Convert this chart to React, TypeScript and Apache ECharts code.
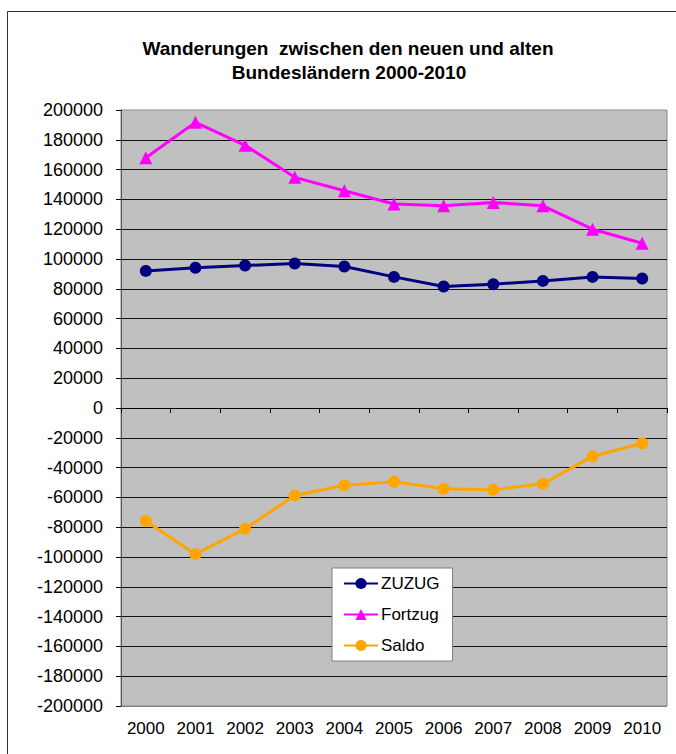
import React, { useEffect, useRef } from "react";
import * as echarts from "echarts";

const years = ["2000", "2001", "2002", "2003", "2004", "2005", "2006", "2007", "2008", "2009", "2010"];
const zuzug = [92000, 94100, 95600, 97000, 95000, 88000, 81500, 83100, 85300, 88000, 86900];
const fortzug = [168000, 191700, 176300, 154800, 145800, 136900, 135700, 138000, 135700, 120000, 110600];
const saldo = [-75900, -98100, -81100, -58700, -51900, -49500, -54200, -54900, -50900, -32500, -23700];
const seriesNames = ["ZUZUG", "Fortzug", "Saldo"];
const titleLines = ["Wanderungen  zwischen den neuen und alten", "Bundesländern 2000-2010"];

const FONT = "'Liberation Sans', Arial, sans-serif";

export default function App() {
  const ref = useRef<HTMLDivElement>(null);
  useEffect(() => {
    if (!ref.current) return;
    const chart = echarts.init(ref.current, undefined, { renderer: "svg" });
    const splitColors: string[] = [];
    for (let i = 0; i <= 20; i++) splitColors.push(i === 0 ? "#808080" : i === 20 ? "#A8A8A8" : "#111111");
    chart.setOption({
      animation: false,
      backgroundColor: "#ffffff",
      graphic: [
        {
          type: "rect",
          silent: true,
          shape: { x: 7.5, y: 11.5, width: 720, height: 800 },
          style: { fill: "none", stroke: "#333", lineWidth: 1 },
          z: -10,
        },
        {
          type: "text",
          x: 348,
          y: 48,
          style: {
            text: titleLines[0],
            textAlign: "center",
            textVerticalAlign: "middle",
            font: `bold 19px ${FONT}`,
            fill: "#000",
          },
        },
        {
          type: "text",
          x: 349,
          y: 72,
          style: {
            text: titleLines[1],
            textAlign: "center",
            textVerticalAlign: "middle",
            font: `bold 19px ${FONT}`,
            fill: "#000",
          },
        },
      ],
      legend: {
        orient: "vertical",
        left: 332,
        top: 568,
        data: seriesNames,
        itemWidth: 34,
        itemHeight: 14,
        itemGap: 14,
        padding: [7, 13, 7, 11],
        backgroundColor: "#fff",
        borderColor: "#808080",
        borderWidth: 1,
        textStyle: { fontFamily: FONT, fontSize: 17, color: "#000", lineHeight: 17, padding: [0, 0, 0, -2] },
      },
      grid: {
        left: 121,
        top: 110,
        right: 9,
        bottom: 48,
        show: true,
        containLabel: false,
        outerBoundsMode: "none",
        backgroundColor: "#C0C0C0",
        borderColor: "#888",
        borderWidth: 1,
      },
      xAxis: [
        {
          type: "category",
          data: years,
          position: "bottom",
          boundaryGap: true,
          axisLine: { show: false, onZero: false },
          axisTick: { show: false },
          axisLabel: { margin: 14, fontFamily: FONT, fontSize: 17, color: "#000", interval: 0, hideOverlap: false },
          splitLine: { show: false },
        },
        {
          type: "category",
          data: years,
          position: "top",
          boundaryGap: true,
          axisLine: { show: true, onZero: true, lineStyle: { color: "#000", width: 1 } },
          axisTick: { show: true, inside: true, length: 5, interval: 0, alignWithLabel: false, lineStyle: { color: "#000" } },
          axisLabel: { show: false },
          splitLine: { show: false },
        },
      ],
      yAxis: {
        type: "value",
        min: -200000,
        max: 200000,
        interval: 20000,
        axisLine: { show: true, onZero: false, lineStyle: { color: "#555", width: 1 } },
        axisTick: { show: true, length: 5, lineStyle: { color: "#000" } },
        axisLabel: {
          margin: 18,
          fontFamily: FONT,
          fontSize: 18,
          color: "#000",
          showMinLabel: true,
          showMaxLabel: true,
          hideOverlap: false,
          formatter: (v: number) => String(v),
        },
        splitLine: { show: true, lineStyle: { color: splitColors, width: 1 } },
      },
      series: [
        {
          name: seriesNames[0],
          type: "line",
          data: zuzug,
          symbol: "circle",
          symbolSize: 12,
          lineStyle: { color: "#000080", width: 3 },
          itemStyle: { color: "#000080" },
        },
        {
          name: seriesNames[1],
          type: "line",
          data: fortzug,
          symbol: "triangle",
          symbolSize: 13,
          lineStyle: { color: "#FF00FF", width: 3 },
          itemStyle: { color: "#FF00FF" },
        },
        {
          name: seriesNames[2],
          type: "line",
          data: saldo,
          symbol: "circle",
          symbolSize: 12,
          lineStyle: { color: "#FFA500", width: 3 },
          itemStyle: { color: "#FFA500" },
        },
      ],
    });
    return () => chart.dispose();
  }, []);
  return (
    <div
      ref={ref}
      style={{ position: "fixed", left: 0, top: 0, width: 676, height: 754, background: "#fff" }}
    />
  );
}
